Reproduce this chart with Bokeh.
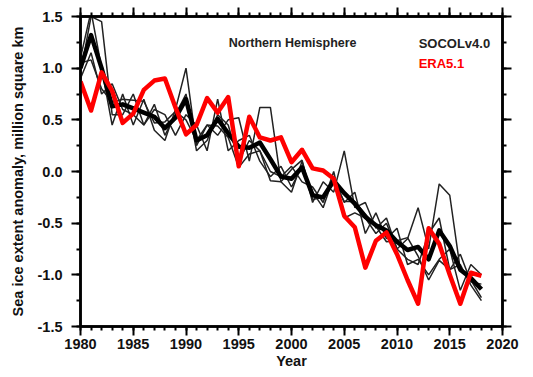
from bokeh.plotting import figure
from bokeh.models import LinearAxis, SingleIntervalTicker, NumeralTickFormatter, Label
from bokeh.embed import file_html
from bokeh.resources import INLINE

years = list(range(1980, 2019))

era51 = [0.87, 0.59, 0.96, 0.78, 0.47, 0.56, 0.79, 0.88, 0.90, 0.62,
         0.36, 0.45, 0.71, 0.57, 0.72, 0.05, 0.53, 0.33, 0.30, 0.33,
         0.09, 0.21, 0.03, 0.01, -0.07, -0.43, -0.54, -0.93, -0.67, -0.59,
         -0.80, -1.05, -1.28, -0.55, -0.70, -1.00, -1.28, -0.98, -1.01]

socol_mean = [1.00, 1.32, 1.00, 0.63, 0.65, 0.61, 0.57, 0.53, 0.42, 0.52,
              0.70, 0.30, 0.35, 0.51, 0.37, 0.24, 0.23, 0.28, 0.12, -0.05,
              -0.07, 0.04, -0.23, -0.25, -0.09, -0.21, -0.31, -0.44, -0.52, -0.57,
              -0.68, -0.76, -0.73, -0.85, -0.57, -0.72, -0.95, -1.03, -1.14]

member1 = [1.10, 1.55, 1.00, 0.45, 0.75, 0.45, 0.70, 0.40, 0.30, 0.60,
           1.00, 0.25, 0.45, 0.35, 0.50, 0.52, 0.10, 0.62, 0.62, -0.10,
           -0.20, 0.10, -0.30, -0.10, -0.20, 0.20, -0.35, -0.30, -0.55, -0.45,
           -0.75, -0.65, -0.35, -0.75, -0.12, -0.23, -0.95, -1.05, -1.22]
member2 = [0.95, 1.50, 1.45, 0.55, 0.55, 0.75, 0.45, 0.60, 0.55, 0.35,
           0.55, 0.45, 0.20, 0.70, 0.20, 0.30, 0.35, 0.10, -0.05, 0.05,
           -0.15, 0.05, -0.20, -0.35, -0.05, -0.30, -0.20, -0.60, -0.40, -0.65,
           -0.55, -0.90, -0.85, -1.00, -0.85, -0.75, -1.15, -0.90, -1.00]
member3 = [0.90, 1.15, 0.75, 0.85, 0.60, 0.55, 0.45, 0.65, 0.35, 0.55,
           0.75, 0.20, 0.30, 0.55, 0.45, 0.10, 0.30, 0.20, 0.00, -0.05,
           0.05, -0.10, -0.15, -0.30, 0.00, -0.45, -0.40, -0.45, -0.60, -0.50,
           -0.75, -0.85, -0.90, -0.60, -0.45, -0.95, -0.90, -1.10, -1.25]
member4 = [1.05, 1.08, 0.80, 0.67, 0.70, 0.69, 0.68, 0.47, 0.48, 0.58,
           0.50, 0.30, 0.45, 0.44, 0.33, 0.04, 0.17, 0.20, -0.09, -0.10,
           0.02, 0.11, -0.27, -0.25, -0.11, -0.29, -0.29, -0.41, -0.53, -0.68,
           -0.67, -0.64, -0.82, -1.05, -0.86, -0.95, -0.80, -1.07, -1.09]
members = [member1, member2, member3, member4]

title_text = "Northern Hemisphere"
model_name = "SOCOLv4.0"
reanalysis_name = "ERA5.1"

FONT = "Liberation Sans"

p = figure(frame_width=422, frame_height=310,
           x_range=(1980, 2020), y_range=(-1.5, 1.5),
           output_backend="svg", toolbar_location=None,
           min_border_left=80, min_border_top=16, min_border_right=28, min_border_bottom=48)
p.outline_line_color = "black"
p.outline_line_width = 2.5
p.xgrid.visible = False
p.ygrid.visible = False

def style_axis(ax):
    ax.axis_line_width = 2.5
    ax.axis_line_color = "black"
    ax.major_tick_line_width = 2
    ax.minor_tick_line_width = 2
    ax.major_tick_line_color = "black"
    ax.minor_tick_line_color = "black"
    ax.major_tick_in = 0
    ax.major_tick_out = 9
    ax.minor_tick_in = 0
    ax.minor_tick_out = 4
    ax.major_label_text_font = FONT
    ax.major_label_text_font_style = "bold"
    ax.major_label_text_color = "#111111"
    ax.major_label_text_font_size = "14.5px"

p.xaxis.ticker = SingleIntervalTicker(interval=5, num_minor_ticks=5)
p.yaxis.ticker = SingleIntervalTicker(interval=0.5, num_minor_ticks=2)
p.yaxis.formatter = NumeralTickFormatter(format="0.0")
style_axis(p.xaxis[0])
style_axis(p.yaxis[0])
p.xaxis.major_label_standoff = 3
p.yaxis.major_label_standoff = 9
p.xaxis.axis_label = "Year"
p.yaxis.axis_label = "Sea ice extent anomaly, million square km"
for ax in (p.xaxis[0], p.yaxis[0]):
    ax.axis_label_text_font = FONT
    ax.axis_label_text_font_style = "bold"
    ax.axis_label_text_font_size = "14.5px"
    ax.axis_label_text_color = "#111111"
p.xaxis.axis_label_standoff = 1
p.yaxis.axis_label_standoff = 9

# mirror axes on top and right: ticks only (labels tiny and transparent)
top = LinearAxis(ticker=SingleIntervalTicker(interval=5, num_minor_ticks=5))
style_axis(top)
top.major_label_text_font_size = "4px"
top.major_label_text_alpha = 0
top.major_label_standoff = 2
p.add_layout(top, "above")
right = LinearAxis(ticker=SingleIntervalTicker(interval=0.5, num_minor_ticks=2),
                   formatter=NumeralTickFormatter(format="0.0"))
style_axis(right)
right.major_label_text_font_size = "4px"
right.major_label_text_alpha = 0
right.major_label_standoff = 2
p.add_layout(right, "right")

for m in members:
    p.line(years, m, line_color="#222222", line_width=1.5)
p.line(years, socol_mean, line_color="black", line_width=4.5, line_join="round")
p.line(years, era51, line_color="#ff0000", line_width=4.5, line_join="round")

p.add_layout(Label(x=1994.05, y=1.24, text=title_text, text_font=FONT,
                   text_font_style="bold", text_font_size="12.5px",
                   text_color="#222222", text_baseline="middle"))
p.add_layout(Label(x=2012.05, y=1.24, text=model_name, text_font=FONT,
                   text_font_style="bold", text_font_size="13px",
                   text_color="#222222", text_baseline="middle"))
p.add_layout(Label(x=2012.05, y=1.045, text=reanalysis_name, text_font=FONT,
                   text_font_style="bold", text_font_size="13px",
                   text_color="#ff0000", text_baseline="middle"))

open("out.html", "w").write(file_html(p, INLINE))
